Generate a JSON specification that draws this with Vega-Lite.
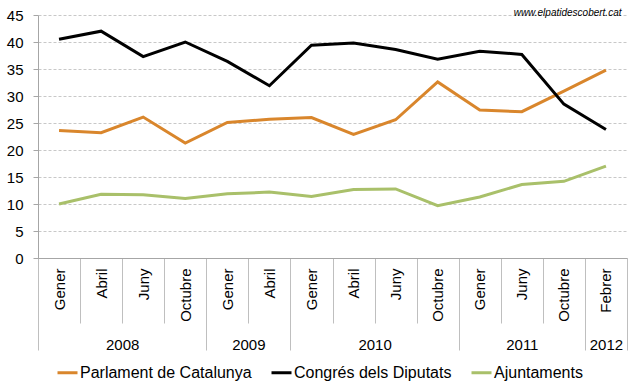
{
  "$schema": "https://vega.github.io/schema/vega-lite/v6.json",
  "width": 589,
  "height": 243,
  "autosize": {"type": "none"},
  "padding": {"left": 38, "top": 15, "right": 13, "bottom": 132},
  "background": "white",
  "title": {
    "text": "www.elpatidescobert.cat",
    "anchor": "end",
    "orient": "top",
    "font": "Liberation Sans",
    "fontStyle": "italic",
    "fontWeight": "normal",
    "fontSize": 10,
    "color": "#000000",
    "baseline": "middle",
    "offset": -15,
    "dx": -6
  },
  "config": {
    "font": "Liberation Sans",
    "view": {"stroke": null},
    "axis": {
      "labelFont": "Liberation Sans",
      "labelFontSize": 15,
      "labelColor": "#000000",
      "domainColor": "#a6a6a6",
      "tickColor": "#a6a6a6",
      "title": null
    }
  },
  "data": {
    "values": [
      {"idx": 0, "series": "Parlament de Catalunya", "value": 23.6},
      {"idx": 1, "series": "Parlament de Catalunya", "value": 23.2},
      {"idx": 2, "series": "Parlament de Catalunya", "value": 26.1},
      {"idx": 3, "series": "Parlament de Catalunya", "value": 21.3},
      {"idx": 4, "series": "Parlament de Catalunya", "value": 25.1},
      {"idx": 5, "series": "Parlament de Catalunya", "value": 25.7},
      {"idx": 6, "series": "Parlament de Catalunya", "value": 26.0},
      {"idx": 7, "series": "Parlament de Catalunya", "value": 22.9},
      {"idx": 8, "series": "Parlament de Catalunya", "value": 25.6},
      {"idx": 9, "series": "Parlament de Catalunya", "value": 32.6},
      {"idx": 10, "series": "Parlament de Catalunya", "value": 27.4},
      {"idx": 11, "series": "Parlament de Catalunya", "value": 27.1},
      {"idx": 12, "series": "Parlament de Catalunya", "value": 30.9},
      {"idx": 13, "series": "Parlament de Catalunya", "value": 34.8},
      {"idx": 0, "series": "Congrés dels Diputats", "value": 40.5},
      {"idx": 1, "series": "Congrés dels Diputats", "value": 42.0},
      {"idx": 2, "series": "Congrés dels Diputats", "value": 37.3},
      {"idx": 3, "series": "Congrés dels Diputats", "value": 40.0},
      {"idx": 4, "series": "Congrés dels Diputats", "value": 36.4},
      {"idx": 5, "series": "Congrés dels Diputats", "value": 31.9},
      {"idx": 6, "series": "Congrés dels Diputats", "value": 39.4},
      {"idx": 7, "series": "Congrés dels Diputats", "value": 39.8},
      {"idx": 8, "series": "Congrés dels Diputats", "value": 38.6},
      {"idx": 9, "series": "Congrés dels Diputats", "value": 36.8},
      {"idx": 10, "series": "Congrés dels Diputats", "value": 38.3},
      {"idx": 11, "series": "Congrés dels Diputats", "value": 37.7},
      {"idx": 12, "series": "Congrés dels Diputats", "value": 28.5},
      {"idx": 13, "series": "Congrés dels Diputats", "value": 23.8},
      {"idx": 0, "series": "Ajuntaments", "value": 10.0},
      {"idx": 1, "series": "Ajuntaments", "value": 11.8},
      {"idx": 2, "series": "Ajuntaments", "value": 11.7},
      {"idx": 3, "series": "Ajuntaments", "value": 11.0},
      {"idx": 4, "series": "Ajuntaments", "value": 11.9},
      {"idx": 5, "series": "Ajuntaments", "value": 12.2},
      {"idx": 6, "series": "Ajuntaments", "value": 11.4},
      {"idx": 7, "series": "Ajuntaments", "value": 12.7},
      {"idx": 8, "series": "Ajuntaments", "value": 12.8},
      {"idx": 9, "series": "Ajuntaments", "value": 9.7},
      {"idx": 10, "series": "Ajuntaments", "value": 11.3},
      {"idx": 11, "series": "Ajuntaments", "value": 13.6},
      {"idx": 12, "series": "Ajuntaments", "value": 14.2},
      {"idx": 13, "series": "Ajuntaments", "value": 17.0}
    ]
  },
  "resolve": {"axis": {"x": "independent"}},
  "layer": [
    {
      "mark": {"type": "point", "opacity": 0},
      "encoding": {
        "x": {
          "field": "idx", "type": "quantitative",
          "axis": {
            "orient": "bottom",
            "values": [-0.5, 0.5, 1.5, 2.5, 3.5, 4.5, 5.5, 6.5, 7.5, 8.5, 9.5, 10.5, 11.5, 12.5, 13.5],
            "labels": false, "domain": false, "grid": false,
            "ticks": true, "tickSize": 65, "tickColor": "#bfbfbf", "tickWidth": 1
          }
        }
      }
    },
    {
      "mark": {"type": "point", "opacity": 0},
      "encoding": {
        "x": {
          "field": "idx", "type": "quantitative",
          "axis": {
            "orient": "bottom",
            "values": [-0.5, 3.5, 5.5, 9.5, 12.5, 13.5],
            "labels": false, "domain": false, "grid": false,
            "ticks": true, "tickSize": 92, "tickColor": "#bfbfbf", "tickWidth": 1
          }
        }
      }
    },
    {
      "mark": {"type": "point", "opacity": 0},
      "encoding": {
        "x": {
          "field": "idx", "type": "quantitative",
          "axis": {
            "orient": "bottom",
            "values": [1.5, 4.5, 7.5, 11, 13],
            "labelExpr": "datum.value == 1.5 ? '2008' : datum.value == 4.5 ? '2009' : datum.value == 7.5 ? '2010' : datum.value == 11 ? '2011' : '2012'",
            "labelAngle": 0, "labelAlign": "center", "labelBaseline": "top",
            "labelPadding": 79, "labelFlush": false, "labelOverlap": false,
            "domain": false, "grid": false, "ticks": false
          }
        }
      }
    },
    {
      "mark": {"type": "line", "strokeWidth": 3},
      "encoding": {
        "x": {
          "field": "idx", "type": "quantitative",
          "scale": {"domain": [-0.5, 13.5], "nice": false, "zero": false},
          "axis": {
            "orient": "bottom",
            "values": [0, 1, 2, 3, 4, 5, 6, 7, 8, 9, 10, 11, 12, 13],
            "labelExpr": "['Gener','Abril','Juny','Octubre','Gener','Abril','Gener','Abril','Juny','Octubre','Gener','Juny','Octubre','Febrer'][datum.value]",
            "labelAngle": -90, "labelAlign": "right", "labelBaseline": "middle",
            "labelPadding": 10, "labelFlush": false, "labelOverlap": false,
            "domain": true, "domainColor": "#a6a6a6", "grid": false, "ticks": false
          }
        },
        "y": {
          "field": "value", "type": "quantitative",
          "scale": {"domain": [0, 45], "nice": false},
          "axis": {
            "values": [0, 5, 10, 15, 20, 25, 30, 35, 40, 45],
            "grid": true, "gridColor": "#c8c8c8", "gridDash": [3, 2], "gridWidth": 1,
            "tickSize": 5, "labelPadding": 10, "domainColor": "#a6a6a6"
          }
        },
        "color": {
          "field": "series", "type": "nominal",
          "scale": {
            "domain": ["Parlament de Catalunya", "Congrés dels Diputats", "Ajuntaments"],
            "range": ["#D9862C", "#000000", "#A9C06A"]
          },
          "legend": {
            "orient": "none", "legendX": 18, "legendY": 346,
            "direction": "horizontal", "title": null,
            "symbolType": "stroke", "symbolStrokeWidth": 3, "symbolSize": 400,
            "labelFontSize": 16, "labelColor": "#000000", "labelFont": "Liberation Sans",
            "labelLimit": 400,
            "labelOffset": 1, "columnPadding": 13, "symbolOffset": 0
          }
        },
        "order": {"field": "idx", "type": "quantitative"}
      }
    }
  ]
}
